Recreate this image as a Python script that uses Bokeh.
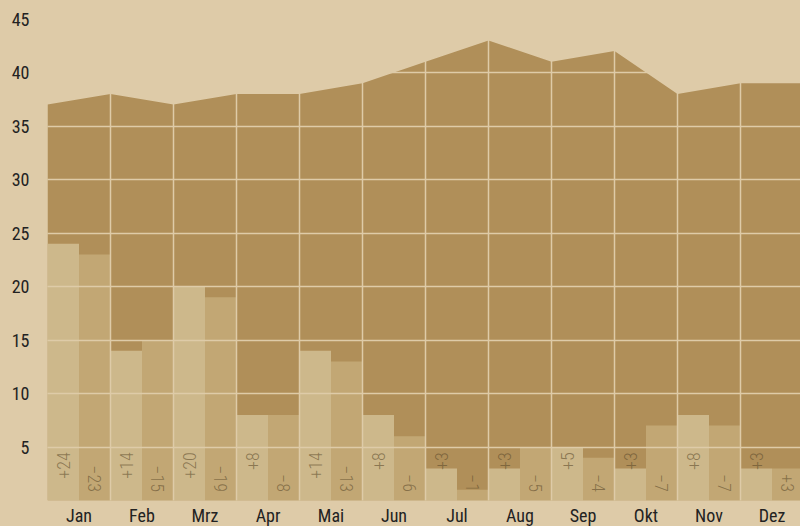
import numpy as np
from bokeh.plotting import figure
from bokeh.models import Range1d, FixedTicker, ColumnDataSource, GlobalInlineStyleSheet
from bokeh.core.properties import value
from bokeh.embed import file_html
from bokeh.resources import INLINE

# ---- data ----
months = ["Jan", "Feb", "Mrz", "Apr", "Mai", "Jun", "Jul", "Aug", "Sep", "Okt", "Nov", "Dez"]
total = [37, 38, 37, 38, 38, 39, 41, 43, 41, 42, 38, 39, 39]   # area outline at month boundaries
first = [24, 14, 20, 8, 14, 8, 3, 3, 5, 3, 8, 3]                 # light (left) bars
second = [23, 15, 19, 8, 13, 6, 1, 5, 4, 7, 7, 3]                # darker (right) bars
first_labels = ["+24", "+14", "+20", "+8", "+14", "+8", "+3", "+3", "+5", "+3", "+8", "+3"]
second_labels = ["\u221223", "\u221215", "\u221219", "\u22128", "\u221213", "\u22126",
                 "\u22121", "\u22125", "\u22124", "\u22127", "\u22127", "+3"]
y_ticks = [5, 10, 15, 20, 25, 30, 35, 40, 45]

BG = "#DECBA8"
AREA = "#B08F59"
BAR1 = "#CDB88B"
BAR2 = "#C2A774"
TXT = "#222222"
FONT_AXIS = "'Roboto Condensed', 'Liberation Sans Narrow', 'DejaVu Sans Condensed', Roboto, sans-serif"
FONT_LABEL = "'Roboto Condensed Light', 'Roboto Condensed', 'Liberation Sans Narrow', Roboto, sans-serif"

n = len(months)
idx = np.arange(n)

FRAME_H = 500
p = figure(frame_width=753, frame_height=FRAME_H,
           x_range=Range1d(0, 753 / 63), y_range=Range1d(0, 45 * FRAME_H / (FRAME_H - 18.5)),
           output_backend="svg", toolbar_location=None,
           min_border_left=47, min_border_right=0, min_border_top=0, min_border_bottom=0)
p.stylesheets = [GlobalInlineStyleSheet(css="html, body { background-color: #DECBA8; }")]

p.background_fill_color = BG
p.border_fill_color = BG
p.outline_line_color = None

# area
p.varea(x=np.arange(len(total)), y1=0, y2=total, fill_color=AREA)

# bars
src = ColumnDataSource(dict(x1=idx + 0.25, x2=idx + 0.75, a=first, b=second,
                            la=first_labels, lb=second_labels))
p.vbar(x="x1", top="a", width=0.5, bottom=0, source=src, fill_color=BAR1, line_color=None)
p.vbar(x="x2", top="b", width=0.5, bottom=0, source=src, fill_color=BAR2, line_color=None)

# value labels
p.text(x="x1", y=4.5, text="la", source=src, angle=np.pi / 2, text_align="right",
       text_baseline="middle", text_font=value(FONT_LABEL), text_font_size="18px",
       text_color="#5E4C2C", text_alpha=0.6)
p.text(x="x2", y=0.8, text="lb", source=src, angle=-np.pi / 2, text_align="right",
       text_baseline="middle", text_font=value(FONT_LABEL), text_font_size="18px",
       text_color="#5E4C2C", text_alpha=0.6)

# grid (background coloured, over the marks)
p.xgrid.ticker = FixedTicker(ticks=list(range(1, n)))
p.ygrid.ticker = FixedTicker(ticks=y_ticks)
for g in (p.xgrid, p.ygrid):
    g.grid_line_color = BG
    g.grid_line_width = 1.5
    g.level = "annotation"

# axes
p.xaxis.ticker = FixedTicker(ticks=[i + 0.5 for i in range(n)])
p.xaxis.major_label_overrides = {i + 0.5: m for i, m in enumerate(months)}
p.yaxis.ticker = FixedTicker(ticks=y_ticks)
for ax in (p.xaxis, p.yaxis):
    ax.axis_line_color = None
    ax.major_tick_line_color = None
    ax.minor_tick_line_color = None
    ax.major_tick_out = 0
    ax.major_tick_in = 0
    ax.minor_tick_out = 0
    ax.major_label_text_font = FONT_AXIS
    ax.major_label_text_font_size = "18px"
    ax.major_label_text_color = TXT
p.xaxis.major_label_standoff = 4
p.yaxis.major_label_standoff = 18

open("out.html", "w").write(file_html(p, INLINE))
